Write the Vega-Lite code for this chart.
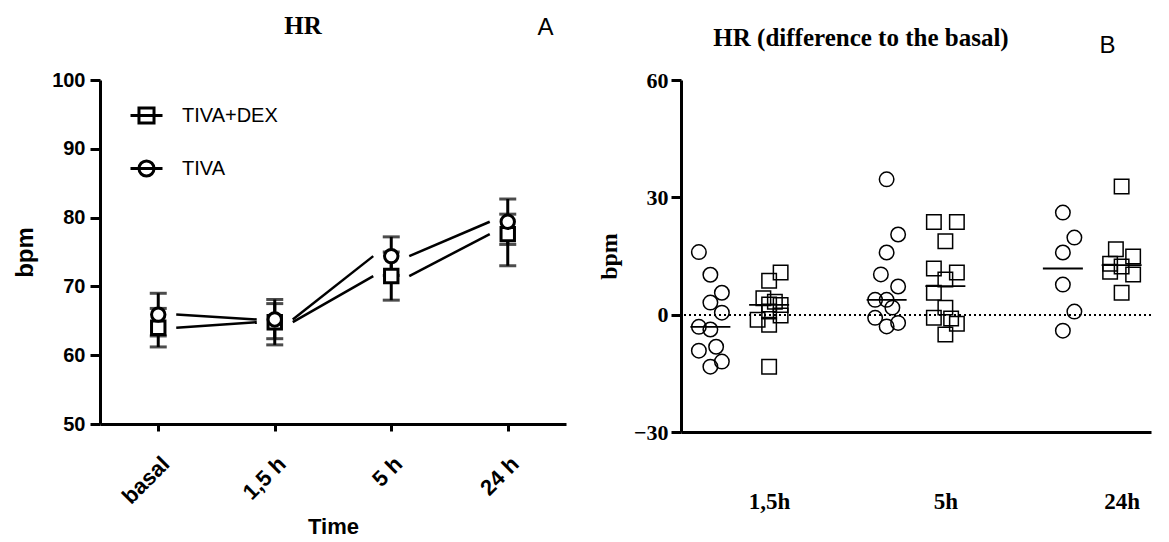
{
  "$schema": "https://vega.github.io/schema/vega-lite/v6.json",
  "background": "white",
  "padding": {"left": 13, "top": 14, "right": 5, "bottom": 5},
  "bounds": "flush",
  "spacing": 115,
  "config": {
    "view": {"stroke": null},
    "axis": {"grid": false, "domainColor": "black", "tickColor": "black", "labelColor": "black", "titleColor": "black", "domainWidth": 3, "tickWidth": 3},
    "title": {"font": "Liberation Serif", "fontWeight": "bold", "fontSize": 25, "color": "black"}
  },
  "resolve": {"scale": {"shape": "independent"}, "legend": {"shape": "independent"}},
  "hconcat": [
    {
      "width": 466,
      "height": 344,
      "title": {"text": "HR", "dx": -30, "offset": -24},
      "data": {"values": [
        {"time": "basal", "group": "TIVA+DEX", "mean": 64.0, "lo": 61.2, "hi": 66.8},
        {"time": "1,5 h", "group": "TIVA+DEX", "mean": 64.8, "lo": 61.5, "hi": 67.5},
        {"time": "5 h", "group": "TIVA+DEX", "mean": 71.5, "lo": 68.0, "hi": 75.0},
        {"time": "24 h", "group": "TIVA+DEX", "mean": 77.6, "lo": 73.0, "hi": 80.5},
        {"time": "basal", "group": "TIVA", "mean": 65.9, "lo": 62.8, "hi": 69.0},
        {"time": "1,5 h", "group": "TIVA", "mean": 65.2, "lo": 62.4, "hi": 68.1},
        {"time": "5 h", "group": "TIVA", "mean": 74.4, "lo": 71.6, "hi": 77.2},
        {"time": "24 h", "group": "TIVA", "mean": 79.4, "lo": 76.1, "hi": 82.7}
      ]},
      "resolve": {"axis": {"x": "independent"}, "scale": {"shape": "independent"}},
      "layer": [
        {
          "transform": [
            {"calculate": "indexof(['basal', '1,5 h', '5 h', '24 h'], datum.time)", "as": "ord"},
            {"window": [{"op": "lead", "field": "time", "as": "time2"}, {"op": "lead", "field": "mean", "as": "mean2"}], "groupby": ["group"], "sort": [{"field": "ord", "order": "ascending"}]},
            {"filter": "datum.time2 != null"}
          ],
          "mark": {"type": "rule", "color": "black", "strokeWidth": 2.5, "xOffset": 18, "x2Offset": -18},
          "encoding": {
            "x": {"field": "time", "type": "ordinal", "scale": {"type": "point", "domain": ["basal", "1,5 h", "5 h", "24 h"], "padding": 0.5},
              "axis": {"title": "Time", "labelAngle": -45, "labelFont": "Liberation Sans", "labelFontWeight": "bold", "labelFontSize": 22, "labelPadding": 22, "tickSize": 7, "titleFont": "Liberation Sans", "titleFontWeight": "bold", "titleFontSize": 22, "titlePadding": 9, "labelOverlap": false}},
            "x2": {"field": "time2"},
            "y": {"field": "mean", "type": "quantitative", "scale": {"domain": [50, 100], "nice": false},
              "axis": {"title": "bpm", "values": [50, 60, 70, 80, 90, 100], "tickSize": 10, "labelPadding": 5, "labelFont": "Liberation Sans", "labelFontWeight": "bold", "labelFontSize": 20, "titleFont": "Liberation Sans", "titleFontWeight": "bold", "titleFontSize": 24, "titlePadding": 14}},
            "y2": {"field": "mean2"}
          }
        },
        {
          "mark": {"type": "rule", "color": "black", "strokeWidth": 3},
          "encoding": {
            "x": {"field": "time", "type": "ordinal", "axis": {"orient": "top", "domain": false, "ticks": false, "labels": false, "title": "A", "titleFont": "Liberation Sans", "titleFontWeight": "normal", "titleFontSize": 24, "titleAngle": 0, "titleX": 445, "titleY": -53, "titleAlign": "center", "titleBaseline": "middle"}},
            "y": {"field": "lo", "type": "quantitative", "title": "bpm"},
            "y2": {"field": "hi"}
          }
        },
        {
          "mark": {"type": "tick", "color": "black", "size": 17, "thickness": 3},
          "encoding": {
            "x": {"field": "time", "type": "ordinal", "axis": null},
            "y": {"field": "lo", "type": "quantitative", "title": "bpm"}
          }
        },
        {
          "mark": {"type": "tick", "color": "black", "size": 17, "thickness": 3},
          "encoding": {
            "x": {"field": "time", "type": "ordinal", "axis": null},
            "y": {"field": "hi", "type": "quantitative", "title": "bpm"}
          }
        },
        {
          "mark": {"type": "point", "filled": true, "fill": "white", "stroke": "black", "strokeWidth": 3, "size": 180, "opacity": 1},
          "encoding": {
            "x": {"field": "time", "type": "ordinal", "axis": null},
            "y": {"field": "mean", "type": "quantitative", "title": "bpm"},
            "shape": {"field": "group", "type": "nominal", "scale": {"domain": ["TIVA+DEX", "TIVA"], "range": ["square", "circle"]}, "legend": null}
          }
        },
        {
          "mark": {"type": "point", "filled": false, "color": "black", "strokeWidth": 3, "size": 0, "opacity": 1},
          "encoding": {
            "x": {"field": "time", "type": "ordinal", "axis": null},
            "y": {"field": "mean", "type": "quantitative", "title": "bpm"},
            "shape": {"field": "group", "type": "nominal",
              "scale": {"domain": ["TIVA+DEX", "TIVA"], "range": ["M-1,0H1M-0.47,-0.47H0.47V0.47H-0.47Z", "M-1,0H1M-0.47,0A0.47,0.47,0,1,1,0.47,0A0.47,0.47,0,1,1,-0.47,0Z"]},
              "legend": {"orient": "none", "legendX": 29, "legendY": 18, "title": null, "labelFont": "Liberation Sans", "labelFontSize": 20, "labelColor": "black", "labelOffset": 18, "rowPadding": 21, "symbolSize": 1024, "symbolStrokeWidth": 3}}
          }
        }
      ]
    },
    {
      "width": 470,
      "height": 352,
      "title": {"text": "HR (difference to the basal)", "dx": -55, "offset": -18},
      "data": {"values": [
        {"time": "1,5h", "group": "TIVA", "value": 16.0, "lane": -1},
        {"time": "1,5h", "group": "TIVA", "value": 10.2, "lane": 0},
        {"time": "1,5h", "group": "TIVA", "value": 5.6, "lane": 1},
        {"time": "1,5h", "group": "TIVA", "value": 3.1, "lane": 0},
        {"time": "1,5h", "group": "TIVA", "value": 0.5, "lane": 1},
        {"time": "1,5h", "group": "TIVA", "value": -3.1, "lane": -1},
        {"time": "1,5h", "group": "TIVA", "value": -3.8, "lane": 0},
        {"time": "1,5h", "group": "TIVA", "value": -8.2, "lane": 0.5},
        {"time": "1,5h", "group": "TIVA", "value": -9.2, "lane": -1},
        {"time": "1,5h", "group": "TIVA", "value": -12.0, "lane": 1},
        {"time": "1,5h", "group": "TIVA", "value": -13.3, "lane": 0},
        {"time": "1,5h", "group": "TIVA+DEX", "value": 10.8, "lane": 1},
        {"time": "1,5h", "group": "TIVA+DEX", "value": 8.7, "lane": 0},
        {"time": "1,5h", "group": "TIVA+DEX", "value": 4.2, "lane": -0.5},
        {"time": "1,5h", "group": "TIVA+DEX", "value": 3.3, "lane": 0.5},
        {"time": "1,5h", "group": "TIVA+DEX", "value": 2.6, "lane": 0},
        {"time": "1,5h", "group": "TIVA+DEX", "value": 2.5, "lane": 1},
        {"time": "1,5h", "group": "TIVA+DEX", "value": 0.8, "lane": 0},
        {"time": "1,5h", "group": "TIVA+DEX", "value": -0.2, "lane": 1},
        {"time": "1,5h", "group": "TIVA+DEX", "value": -1.3, "lane": -1},
        {"time": "1,5h", "group": "TIVA+DEX", "value": -2.6, "lane": 0},
        {"time": "1,5h", "group": "TIVA+DEX", "value": -13.3, "lane": 0},
        {"time": "5h", "group": "TIVA", "value": 34.6, "lane": 0},
        {"time": "5h", "group": "TIVA", "value": 20.5, "lane": 1},
        {"time": "5h", "group": "TIVA", "value": 15.9, "lane": 0},
        {"time": "5h", "group": "TIVA", "value": 10.3, "lane": -0.5},
        {"time": "5h", "group": "TIVA", "value": 7.2, "lane": 1},
        {"time": "5h", "group": "TIVA", "value": 3.8, "lane": -1},
        {"time": "5h", "group": "TIVA", "value": 3.8, "lane": 0},
        {"time": "5h", "group": "TIVA", "value": 1.8, "lane": 0.5},
        {"time": "5h", "group": "TIVA", "value": -0.8, "lane": -1},
        {"time": "5h", "group": "TIVA", "value": -3.0, "lane": 0},
        {"time": "5h", "group": "TIVA", "value": -2.1, "lane": 1},
        {"time": "5h", "group": "TIVA+DEX", "value": 23.7, "lane": -1},
        {"time": "5h", "group": "TIVA+DEX", "value": 23.7, "lane": 1},
        {"time": "5h", "group": "TIVA+DEX", "value": 18.8, "lane": 0},
        {"time": "5h", "group": "TIVA+DEX", "value": 11.8, "lane": -1},
        {"time": "5h", "group": "TIVA+DEX", "value": 10.8, "lane": 1},
        {"time": "5h", "group": "TIVA+DEX", "value": 9.0, "lane": 0},
        {"time": "5h", "group": "TIVA+DEX", "value": 5.6, "lane": -1},
        {"time": "5h", "group": "TIVA+DEX", "value": 1.8, "lane": 0},
        {"time": "5h", "group": "TIVA+DEX", "value": -0.8, "lane": -1},
        {"time": "5h", "group": "TIVA+DEX", "value": -1.0, "lane": 0.5},
        {"time": "5h", "group": "TIVA+DEX", "value": -2.3, "lane": 1},
        {"time": "5h", "group": "TIVA+DEX", "value": -5.1, "lane": 0},
        {"time": "24h", "group": "TIVA", "value": 26.1, "lane": 0},
        {"time": "24h", "group": "TIVA", "value": 19.7, "lane": 1},
        {"time": "24h", "group": "TIVA", "value": 15.9, "lane": 0},
        {"time": "24h", "group": "TIVA", "value": 7.7, "lane": 0},
        {"time": "24h", "group": "TIVA", "value": 0.8, "lane": 1},
        {"time": "24h", "group": "TIVA", "value": -4.1, "lane": 0},
        {"time": "24h", "group": "TIVA+DEX", "value": 32.8, "lane": 0},
        {"time": "24h", "group": "TIVA+DEX", "value": 16.7, "lane": -0.5},
        {"time": "24h", "group": "TIVA+DEX", "value": 14.9, "lane": 1},
        {"time": "24h", "group": "TIVA+DEX", "value": 13.0, "lane": -1},
        {"time": "24h", "group": "TIVA+DEX", "value": 12.3, "lane": 0},
        {"time": "24h", "group": "TIVA+DEX", "value": 11.0, "lane": -1},
        {"time": "24h", "group": "TIVA+DEX", "value": 10.3, "lane": 1},
        {"time": "24h", "group": "TIVA+DEX", "value": 5.6, "lane": 0}
      ]},
      "transform": [{"calculate": "datum.time + '|' + datum.group", "as": "slot"}],
      "resolve": {"axis": {"x": "independent"}},
      "layer": [
        {
          "mark": {"type": "rule", "strokeDash": [2, 3], "strokeWidth": 1.5, "color": "black"},
          "encoding": {"y": {"datum": 0, "type": "quantitative"}}
        },
        {
          "mark": {"type": "point", "filled": false, "stroke": "black", "strokeWidth": 1.5, "size": 210, "opacity": 1},
          "encoding": {
            "x": {"field": "slot", "type": "ordinal",
              "scale": {"type": "point", "domain": ["1,5h|TIVA", "1,5h|TIVA+DEX", "gap1", "5h|TIVA", "5h|TIVA+DEX", "gap2", "24h|TIVA", "24h|TIVA+DEX"], "padding": 0.5},
              "axis": {"title": null, "ticks": false, "labelAngle": 0, "labelOverlap": false, "labelExpr": "indexof(datum.value, 'DEX') >= 0 ? split(datum.value, '|')[0] : ''", "labelFont": "Liberation Serif", "labelFontWeight": "bold", "labelFontSize": 23, "labelPadding": 58}},
            "xOffset": {"field": "lane", "type": "quantitative", "scale": {"domain": [-1, 1], "range": [-11.5, 11.5]}},
            "y": {"field": "value", "type": "quantitative", "scale": {"domain": [-30, 60], "nice": false},
              "axis": {"title": "bpm", "values": [-30, 0, 30, 60], "tickSize": 10, "labelPadding": 3, "labelFont": "Liberation Serif", "labelFontWeight": "bold", "labelFontSize": 22, "titleFont": "Liberation Serif", "titleFontWeight": "bold", "titleFontSize": 24, "titlePadding": 12}},
            "shape": {"field": "group", "type": "nominal", "scale": {"domain": ["TIVA+DEX", "TIVA"], "range": ["square", "circle"]}, "legend": null}
          }
        },
        {
          "mark": {"type": "tick", "color": "black", "size": 40, "thickness": 1.8},
          "encoding": {
            "x": {"field": "slot", "type": "ordinal",
              "axis": {"orient": "top", "domain": false, "ticks": false, "labels": false, "title": "B", "titleFont": "Liberation Sans", "titleFontWeight": "normal", "titleFontSize": 24, "titleAngle": 0, "titleX": 426, "titleY": -35, "titleAlign": "center", "titleBaseline": "middle"}},
            "y": {"aggregate": "median", "field": "value", "type": "quantitative", "title": "bpm"}
          }
        }
      ]
    }
  ]
}
